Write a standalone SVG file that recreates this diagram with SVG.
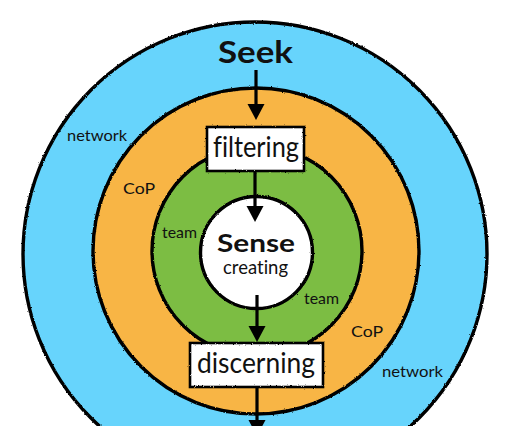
<svg xmlns="http://www.w3.org/2000/svg" width="512" height="426" viewBox="0 0 512 426">
  <defs>
    <filter id="rough" x="-5%" y="-5%" width="110%" height="110%">
      <feTurbulence type="fractalNoise" baseFrequency="0.9" numOctaves="2" seed="3" result="n"/>
      <feDisplacementMap in="SourceGraphic" in2="n" scale="2.2" xChannelSelector="R" yChannelSelector="G"/>
    </filter>
    <marker id="arrow" markerUnits="userSpaceOnUse" markerWidth="18" markerHeight="18" refX="0" refY="8.5" orient="auto" overflow="visible">
      <path d="M0,0 L16,8.5 L0,17 z" fill="#000"/>
    </marker>
  </defs>
  <style>
    .edge { fill: none; stroke: #000; stroke-width: 3.4; filter: url(#rough); }
    .box { fill: #fff; stroke: #000; stroke-width: 2.6; }
    .conn { stroke: #000; stroke-width: 3.2; fill: none; marker-end: url(#arrow); }
    text { font-family: Lato, "Open Sans", "Liberation Sans", sans-serif; fill: #111; font-variant-ligatures: none; }
    .big { text-anchor: middle; }
    .bold { font-weight: bold; }
    .lbl { font-size: 15px; }
  </style>
  <rect width="512" height="426" fill="#fff"/>

  <g id="network">
    <circle cx="255" cy="254" r="232" fill="#67D4FC"/>
    <circle class="edge" cx="255" cy="254" r="232"/>
    <text class="lbl" x="67" y="141" textLength="60" lengthAdjust="spacingAndGlyphs">network</text>
    <text class="lbl" x="382" y="377" textLength="61" lengthAdjust="spacingAndGlyphs">network</text>
  </g>
  <g id="cop">
    <circle cx="256" cy="251" r="163" fill="#F8B545"/>
    <circle class="edge" cx="256" cy="251" r="163"/>
    <text class="lbl" x="123" y="194" textLength="32" lengthAdjust="spacingAndGlyphs" style="font-size:16px">CoP</text>
    <text class="lbl" x="351" y="337" textLength="32" lengthAdjust="spacingAndGlyphs" style="font-size:16px">CoP</text>
  </g>
  <g id="team">
    <circle cx="257" cy="251" r="105" fill="#7CBD43"/>
    <circle class="edge" cx="257" cy="251" r="105"/>
    <text class="lbl" x="162" y="238" textLength="35" lengthAdjust="spacingAndGlyphs">team</text>
    <text class="lbl" x="304" y="304" textLength="35" lengthAdjust="spacingAndGlyphs">team</text>
  </g>
  <g id="sense">
    <circle cx="256.5" cy="252.5" r="56" fill="#fff"/>
    <circle class="edge" cx="256.5" cy="252.5" r="56"/>
    <text class="big bold" x="256" y="252" font-size="24" textLength="78" lengthAdjust="spacingAndGlyphs">Sense</text>
    <text class="big" x="255.5" y="274" font-size="19" textLength="65" lengthAdjust="spacingAndGlyphs">creating</text>
  </g>

  <g id="seek">
    <text class="big bold" x="255.5" y="63" font-size="30" textLength="75" lengthAdjust="spacingAndGlyphs">Seek</text>
  </g>

  <g id="connectors">
    <line class="conn" x1="256" y1="70" x2="256" y2="104"/>
    <line class="conn" x1="255" y1="171" x2="255" y2="206"/>
    <line class="conn" x1="257" y1="295" x2="257" y2="326"/>
    <line class="conn" x1="257" y1="387" x2="257" y2="420"/>
  </g>

  <g id="filtering">
    <rect class="box" x="207" y="127" width="97" height="44" filter="url(#rough)"/>
    <text class="big" x="256" y="157" font-size="29" textLength="86" lengthAdjust="spacingAndGlyphs">filtering</text>
  </g>
  <g id="discerning">
    <rect class="box" x="190" y="343" width="133" height="44" filter="url(#rough)"/>
    <text class="big" x="256" y="373" font-size="29" textLength="118" lengthAdjust="spacingAndGlyphs">discerning</text>
  </g>
</svg>
